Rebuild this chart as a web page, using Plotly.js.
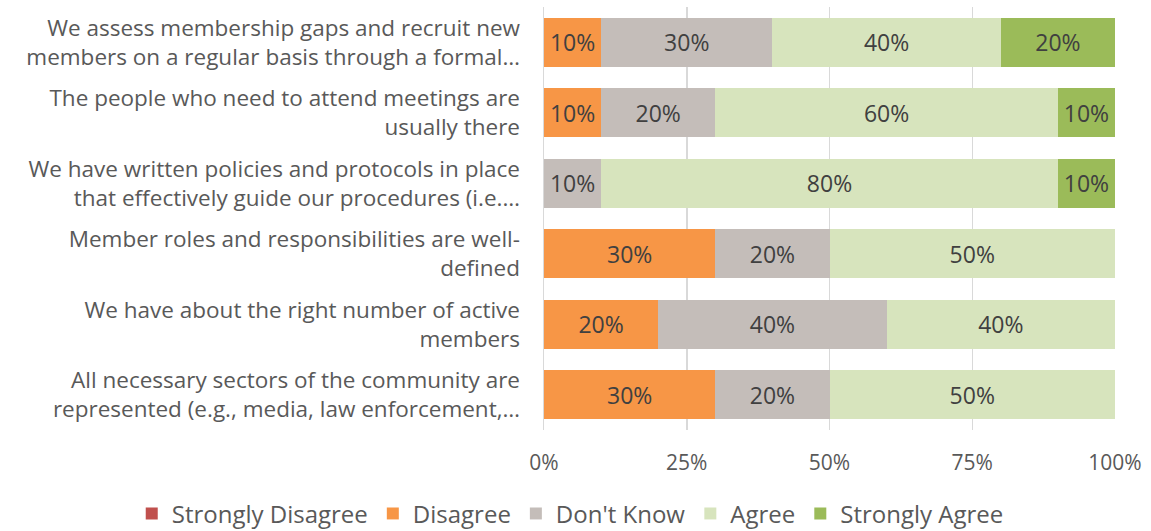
<!DOCTYPE html>
<html>
<head>
<meta charset="utf-8">
<script src="https://cdn.plot.ly/plotly-3.0.1.min.js"></script>
<style>html,body{margin:0;padding:0;background:#fff}#chart{width:1151px;height:531px}</style>
</head>
<body>
<div id="chart"></div>
<script>
const categories = [
  "We assess membership gaps and recruit new<br>members on a regular basis through a formal…",
  "The people who need to attend meetings are<br>usually there",
  "We have written policies and protocols in place<br>that effectively guide our procedures (i.e.…",
  "Member roles and responsibilities are well-<br>defined",
  "We have about the right number of active<br>members",
  "All necessary sectors of the community are<br>represented (e.g., media, law enforcement,…"
];
const seriesNames = ["Strongly Disagree", "Disagree", "Don't Know", "Agree", "Strongly Agree"];
const stronglyDisagree = [0, 0, 0, 0, 0, 0];
const disagree = [10, 10, 0, 30, 20, 30];
const dontKnow = [30, 20, 10, 20, 40, 20];
const agree = [40, 60, 80, 50, 40, 50];
const stronglyAgree = [20, 10, 10, 0, 0, 0];
const tickVals = [0, 25, 50, 75, 100];
const tickLabels = ["0%", "25%", "50%", "75%", "100%"];

const colors = ["#C0504D", "#F79646", "#C4BDB9", "#D7E4BD", "#9BBB59"];
const allSeries = [stronglyDisagree, disagree, dontKnow, agree, stronglyAgree];
const font = "'Open Sans', 'Noto Sans', sans-serif";

const traces = allSeries.map((vals, i) => ({
  type: "bar",
  orientation: "h",
  name: seriesNames[i],
  y: categories,
  x: vals,
  marker: {color: colors[i], line: {width: 0}},
  text: vals.map(v => v > 0 ? v + "%" : ""),
  textposition: "inside",
  insidetextanchor: "middle",
  textangle: 0,
  insidetextfont: {family: font, size: 23, color: "#404040"},
  hoverinfo: "x+name"
}));

const layout = {
  width: 1151,
  height: 531,
  barmode: "stack",
  bargap: 0.3,
  margin: {l: 544, r: 36, t: 7, b: 101, pad: 0, autoexpand: false},
  paper_bgcolor: "#ffffff",
  plot_bgcolor: "#ffffff",
  font: {family: font, color: "#595959", size: 21},
  uniformtext: {mode: "show", minsize: 23},
  xaxis: {
    range: [0, 100],
    tickvals: tickVals,
    ticktext: tickLabels,
    showgrid: true,
    gridcolor: "#D9D9D9",
    gridwidth: 1.5,
    zeroline: false,
    showline: false,
    ticks: "",
    ticklabelstandoff: 18,
    tickfont: {family: font, size: 21, color: "#595959"},
    fixedrange: true
  },
  yaxis: {
    type: "category",
    autorange: "reversed",
    showgrid: false,
    zeroline: false,
    showline: true,
    linecolor: "#D9D9D9",
    linewidth: 1.5,
    ticks: "",
    ticklabelstandoff: 18,
    tickfont: {family: font, size: 22.5, color: "#595959"},
    fixedrange: true
  },
  showlegend: true,
  legend: {
    orientation: "h",
    xref: "paper",
    yref: "paper",
    x: -0.722,
    xanchor: "left",
    y: -0.145,
    yanchor: "top",
    font: {family: font, size: 24, color: "#595959"},
    traceorder: "normal",
    itemwidth: 30,
    itemsizing: "constant"
  }
};

Plotly.newPlot("chart", traces, layout, {staticPlot: true, displayModeBar: false});
</script>
</body>
</html>
